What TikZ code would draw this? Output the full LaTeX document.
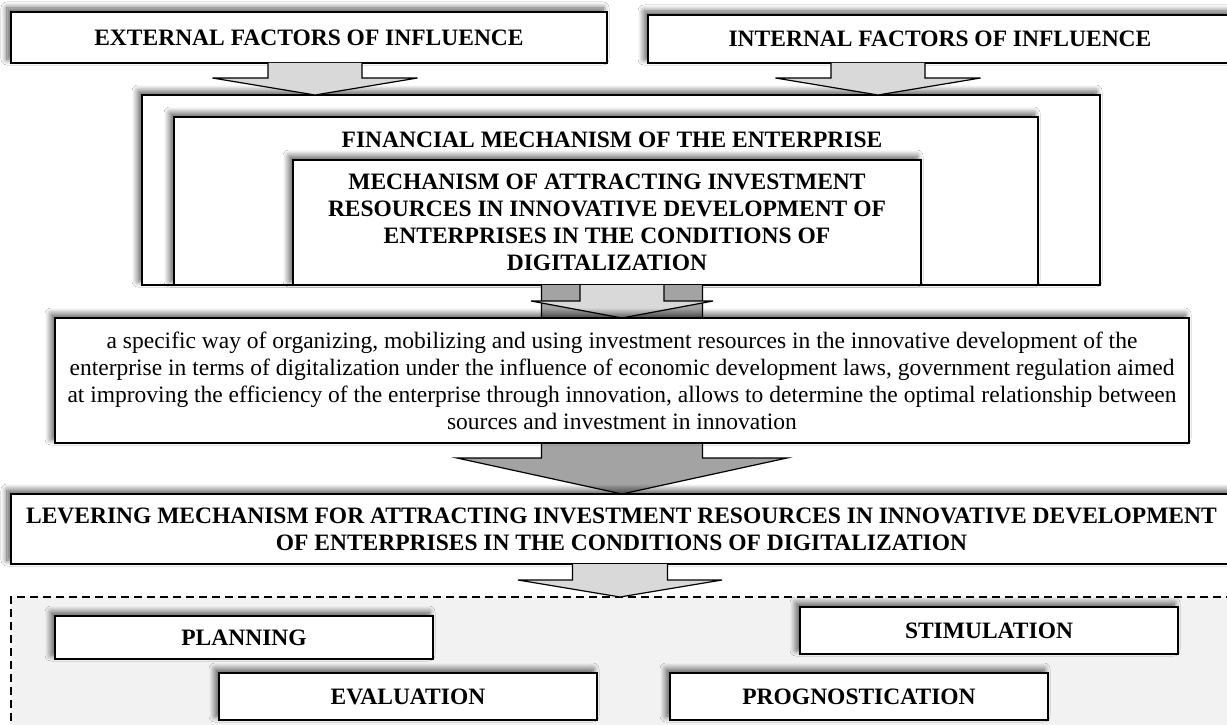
\documentclass[tikz,border=0pt]{standalone}
\usepackage{fontspec}
\setmainfont{Liberation Serif}
\usetikzlibrary{calc,shadows.blur}
\definecolor{lgray}{HTML}{D9D9D9}
\definecolor{dgray}{HTML}{A3A3A3}
\definecolor{zonegray}{HTML}{F2F2F2}
\newcommand\hfont{\fontsize{23.5}{27}\selectfont\bfseries}
\newcommand\bfont{\fontsize{23.5}{27}\selectfont}
\newcommand\blockarrow[6]{%
  \draw[#1] ($(#2)+(-#4,0)$) -- ($(#2)+(-#4,#6)$) -- ($(#2)+(-#5,#6)$) -- (#3)
    -- ($(#2)+(#5,#6)$) -- ($(#2)+(#4,#6)$) -- ($(#2)+(#4,0)$);}
\begin{document}
\begin{tikzpicture}[x=1pt,y=-1pt,
  every node/.style={inner sep=0pt, outer sep=0pt},
  sh/.style={blur shadow={shadow xshift=-4pt, shadow yshift=4pt, shadow blur radius=6pt, shadow blur steps=10, shadow opacity=65}},
  box/.style={draw=black, line width=1.3pt, fill=white, sh, anchor=north west, align=center, font=\hfont},
  textbox/.style={box, font=\bfont},
  framebox/.style={draw=black, line width=1.3pt, fill=white, sh, anchor=north west},
  zonebox/.style={draw=black, line width=1.3pt, dash pattern=on 8pt off 5pt, fill=zonegray, anchor=north west},
  larrow/.style={draw=black, line width=1.2pt, fill=lgray},
  darrow/.style={draw=black, line width=1.2pt, fill=dgray}]
\useasboundingbox (0,0) rectangle (1227,725);
\fill[white] (0,0) rectangle (1227,725);

% dashed zone
\node[zonebox, minimum width=1240pt, minimum height=160pt] (zone) at (11,597) {};

% frames
\node[framebox, minimum width=958pt, minimum height=190pt] (fo) at (142,95) {};
\node[framebox, minimum width=864pt, minimum height=168pt] (fi) at (174,117) {};
\node[font=\hfont] (ftxt) at (612,140) {FINANCIAL MECHANISM OF THE ENTERPRISE};

% top boxes
\node[box, minimum width=596pt, minimum height=51pt] (ext) at (11,12) {EXTERNAL FACTORS OF INFLUENCE};
\node[box, minimum width=584pt, minimum height=48pt] (int) at (648,15) {INTERNAL FACTORS OF INFLUENCE};

\coordinate (a1top) at ($(ext.south)+(6,0)$);
\coordinate (a1tip) at (a1top |- fo.north);
\blockarrow{larrow}{a1top}{a1tip}{47}{102.5}{15}
\coordinate (a2top) at ($(int.south)+(-62,0)$);
\coordinate (a2tip) at (a2top |- fo.north);
\blockarrow{larrow}{a2top}{a2tip}{47}{102.5}{15}

% mechanism box
\node[box, minimum width=628pt, minimum height=125pt] (mech) at (293,160)
  {MECHANISM OF ATTRACTING INVESTMENT\\RESOURCES IN INNOVATIVE DEVELOPMENT OF\\ENTERPRISES IN THE CONDITIONS OF\\DIGITALIZATION};

\path (11,494) coordinate (levnw);

% big dark arrow and light arrow from mechanism box
\coordinate (a4top) at (622,285);
\coordinate (a4tip) at (622,494);
\blockarrow{darrow}{a4top}{a4tip}{80.5}{165}{173}
\coordinate (a3tip) at (622,318);
\blockarrow{larrow}{a4top}{a3tip}{42}{91}{16}

\node[textbox, minimum width=1134pt, minimum height=125pt] (body) at (55,318)
  {a specific way of organizing, mobilizing and using investment resources in the innovative development of the\\
   enterprise in terms of digitalization under the influence of economic development laws, government regulation aimed\\
   at improving the efficiency of the enterprise through innovation, allows to determine the optimal relationship between\\
   sources and investment in innovation};

\node[box, minimum width=1221pt, minimum height=70pt] (lev) at (levnw)
  {LEVERING MECHANISM FOR ATTRACTING INVESTMENT RESOURCES IN INNOVATIVE DEVELOPMENT\\OF ENTERPRISES IN THE CONDITIONS OF DIGITALIZATION};

\coordinate (a5top) at (620,564);
\coordinate (a5tip) at (a5top |- zone.north);
\blockarrow{larrow}{a5top}{a5tip}{47.5}{102}{16}

% bottom boxes
\node[box, minimum width=378pt, minimum height=43pt] (plan) at (55,616) {PLANNING};
\node[box, minimum width=378pt, minimum height=47pt] (stim) at (800,607) {STIMULATION};
\node[box, minimum width=378pt, minimum height=47pt] (eval) at (219,673) {EVALUATION};
\node[box, minimum width=378pt, minimum height=47pt] (prog) at (670,673) {PROGNOSTICATION};
\end{tikzpicture}
\end{document}
